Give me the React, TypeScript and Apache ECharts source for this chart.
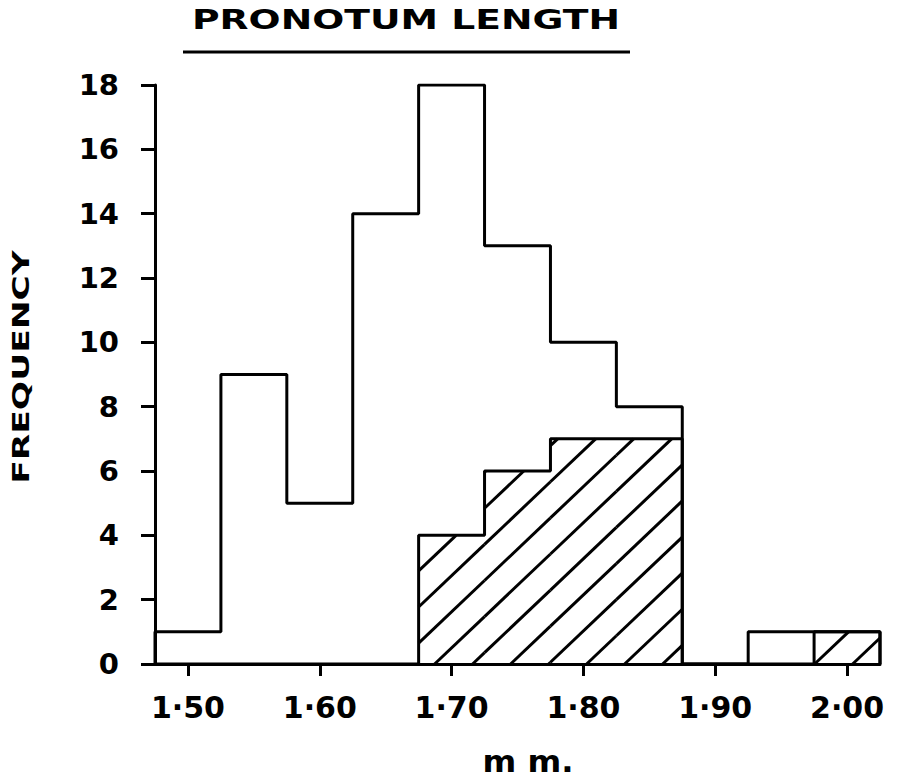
import React, { useEffect, useRef } from "react";
import * as echarts from "echarts";

// ---- data ----
const binStarts = [1.475, 1.525, 1.575, 1.625, 1.675, 1.725, 1.775, 1.825, 1.875, 1.925, 1.975];
const BIN_WIDTH = 0.05;
const totalFreq = [1, 9, 5, 14, 18, 13, 10, 8, 0, 1, 1];
const hatchedFreq = [0, 0, 0, 0, 4, 6, 7, 7, 0, 0, 1];
const xTickValues = [1.5, 1.6, 1.7, 1.8, 1.9, 2.0];
const Y_MAX = 18;
const Y_INTERVAL = 2;
const TITLE = "PRONOTUM LENGTH";
const Y_NAME = "FREQUENCY";
const X_NAME = "m m.";

const FONT = "DejaVu Sans";

function stepPoints(freq: number[]): number[][] {
  const n = binStarts.length;
  const pts: number[][] = [[binStarts[0], 0]];
  for (let i = 0; i < n; i++) pts.push([binStarts[i], freq[i]]);
  const end = binStarts[n - 1] + BIN_WIDTH;
  pts.push([end, freq[n - 1]]);
  pts.push([end, 0]);
  return pts;
}

const hatchItems = binStarts
  .map((x, i) => [x, x + BIN_WIDTH, hatchedFreq[i]])
  .filter((d) => d[2] > 0);

export default function App() {
  const ref = useRef<HTMLDivElement>(null);
  useEffect(() => {
    document.body.style.margin = "0";
    if (!ref.current) return;
    const chart = echarts.init(ref.current, undefined, { renderer: "svg" });
    const SPACING = 38;
    const SLOPE = 0.95;
    const option: any = {
      animation: false,
      backgroundColor: "#fff",
      grid: {
        left: 155,
        right: 27,
        top: 85,
        bottom: 116,
        containLabel: false,
        outerBoundsMode: "none",
      },
      xAxis: {
        type: "value",
        min: binStarts[0],
        max: binStarts[binStarts.length - 1] + BIN_WIDTH,
        splitLine: { show: false },
        axisLine: { show: true, onZero: true, lineStyle: { color: "#000", width: 3 } },
        axisTick: {
          show: true,
          customValues: xTickValues,
          length: 12,
          lineStyle: { color: "#000", width: 3 },
        },
        axisLabel: {
          customValues: xTickValues,
          formatter: (v: number) => v.toFixed(2).replace(".", "\u00B7"),
          color: "#000",
          fontFamily: FONT,
          fontWeight: "bold",
          fontSize: 30,
          margin: 28,
        },
      },
      yAxis: {
        type: "value",
        min: 0,
        max: Y_MAX,
        interval: Y_INTERVAL,
        splitLine: { show: false },
        axisLine: { show: true, onZero: false, lineStyle: { color: "#000", width: 3 } },
        axisTick: { show: true, length: 14, lineStyle: { color: "#000", width: 3 } },
        axisLabel: {
          color: "#000",
          fontFamily: FONT,
          fontWeight: "bold",
          fontSize: 29,
          margin: 36,
        },
      },
      series: [
        {
          type: "custom",
          name: "hatched",
          z: 1,
          data: hatchItems,
          encode: { x: [0, 1], y: 2 },
          renderItem: (params: any, api: any) => {
            const x0 = api.value(0);
            const x1 = api.value(1);
            const h = api.value(2);
            const pBL = api.coord([x0, 0]);
            const pTR = api.coord([x1, h]);
            const px0 = pBL[0];
            const px1 = pTR[0];
            const yb = pBL[1];
            const top = pTR[1];
            const anchor = api.coord([binStarts[4], 0])[0] + 16;
            const reach = (yb - top) / SLOPE;
            const children: any[] = [];
            const nMin = Math.floor((px0 - reach - anchor) / SPACING) - 1;
            const nMax = Math.ceil((px1 - anchor) / SPACING) + 1;
            for (let n = nMin; n <= nMax; n++) {
              const xb = anchor + n * SPACING;
              const xa = Math.max(px0, xb);
              const xe = Math.min(px1, xb + reach);
              if (xe - xa > 0.5) {
                children.push({
                  type: "line",
                  shape: {
                    x1: xa,
                    y1: yb - SLOPE * (xa - xb),
                    x2: xe,
                    y2: yb - SLOPE * (xe - xb),
                  },
                  style: { stroke: "#000", lineWidth: 3 },
                });
              }
            }
            return { type: "group", children };
          },
        },
        {
          type: "line",
          name: "total",
          z: 3,
          step: "end",
          symbol: "none",
          data: stepPoints(totalFreq),
          lineStyle: { color: "#000", width: 3 },
        },
        {
          type: "line",
          name: "hatchedOutline",
          z: 3,
          step: "end",
          symbol: "none",
          data: stepPoints(hatchedFreq),
          lineStyle: { color: "#000", width: 3 },
        },
      ],
      graphic: [
        {
          type: "text",
          x: 406,
          y: 20,
          scaleX: 1.45,
          style: {
            text: TITLE,
            fontFamily: FONT,
            fontWeight: "bold",
            fontSize: 26,
            fill: "#000",
            align: "center",
            verticalAlign: "middle",
          },
        },
        {
          type: "line",
          shape: { x1: 183, y1: 52, x2: 630, y2: 52 },
          style: { stroke: "#000", lineWidth: 3 },
        },
        {
          type: "text",
          x: 21,
          y: 367,
          rotation: Math.PI / 2,
          scaleX: 1.5,
          style: {
            text: Y_NAME,
            fontFamily: FONT,
            fontWeight: "bold",
            fontSize: 23,
            fill: "#000",
            align: "center",
            verticalAlign: "middle",
          },
        },
        {
          type: "text",
          x: 528,
          y: 761,
          scaleX: 1.08,
          style: {
            text: X_NAME,
            fontFamily: FONT,
            fontWeight: "bold",
            fontSize: 30,
            fill: "#000",
            align: "center",
            verticalAlign: "middle",
          },
        },
      ],
    };
    chart.setOption(option);
    return () => chart.dispose();
  }, []);
  return <div ref={ref} style={{ width: 907, height: 780 }} />;
}
